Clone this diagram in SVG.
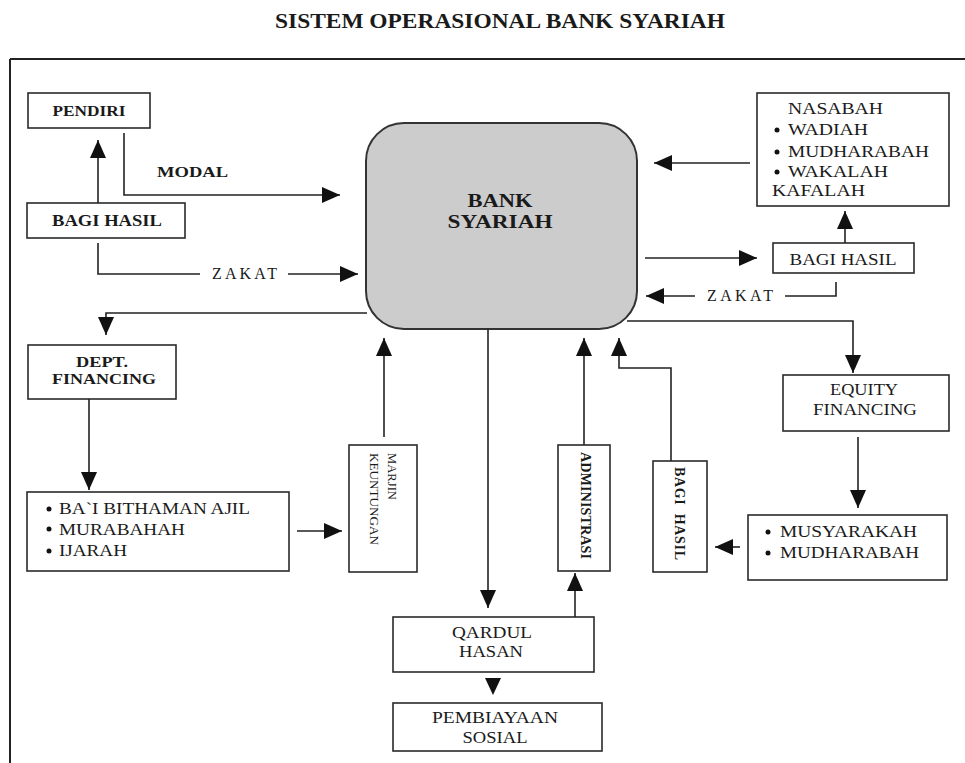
<svg xmlns="http://www.w3.org/2000/svg" width="965" height="763" viewBox="0 0 965 763">
<style>
  .bx{fill:#fff;stroke:#2a2a2a;stroke-width:1.6}
  .ln{fill:none;stroke:#222;stroke-width:1.6}
  .t{font-family:"Liberation Serif","Times New Roman",serif;fill:#1a1a1a}
  .b{font-weight:bold}
  .c{text-anchor:middle}
</style>
<defs>
  <marker id="ah" markerUnits="userSpaceOnUse" markerWidth="20" markerHeight="18" refX="18" refY="8" orient="auto">
    <path d="M0,0 L18,8 L0,16 z" fill="#111"/>
  </marker>
</defs>
<rect width="965" height="763" fill="#fff"/>
<text class="t b c" x="500" y="28" font-size="20" textLength="450" lengthAdjust="spacingAndGlyphs">SISTEM OPERASIONAL BANK SYARIAH</text>
<path d="M10,59 H965 M10,59 V763" fill="none" stroke="#222" stroke-width="2"/>

<g id="bank">
  <rect x="366" y="123" width="271" height="206" rx="38" ry="38" fill="#cccccc" stroke="#333" stroke-width="2"/>
  <text class="t b c" x="500" y="207" font-size="19" textLength="65" lengthAdjust="spacingAndGlyphs">BANK</text>
  <text class="t b c" x="500" y="228" font-size="19" textLength="105" lengthAdjust="spacingAndGlyphs">SYARIAH</text>
</g>
<g id="pendiri">
  <rect class="bx" x="28" y="93" width="122" height="35"/>
  <text class="t b c" x="89" y="116" font-size="15" textLength="73" lengthAdjust="spacingAndGlyphs">PENDIRI</text>
</g>
<g id="bagi-hasil-kiri">
  <rect class="bx" x="27" y="203" width="158" height="35"/>
  <text class="t b c" x="107" y="226" font-size="16" textLength="110" lengthAdjust="spacingAndGlyphs">BAGI HASIL</text>
</g>
<g id="nasabah">
  <rect class="bx" x="757" y="93" width="192" height="113"/>
  <text class="t" x="788" y="114" font-size="17" textLength="95" lengthAdjust="spacingAndGlyphs">NASABAH</text>
  <circle cx="777" cy="130" r="2.5" fill="#111"/>
  <text class="t" x="788" y="135" font-size="17" textLength="80" lengthAdjust="spacingAndGlyphs">WADIAH</text>
  <circle cx="777" cy="152" r="2.5" fill="#111"/>
  <text class="t" x="788" y="157" font-size="17" textLength="141" lengthAdjust="spacingAndGlyphs">MUDHARABAH</text>
  <circle cx="777" cy="172" r="2.5" fill="#111"/>
  <text class="t" x="788" y="177" font-size="17" textLength="100" lengthAdjust="spacingAndGlyphs">WAKALAH</text>
  <text class="t" x="772" y="196" font-size="17" textLength="93" lengthAdjust="spacingAndGlyphs">KAFALAH</text>
</g>
<g id="bagi-hasil-kanan">
  <rect class="bx" x="773" y="243" width="141" height="30"/>
  <text class="t c" x="843" y="265" font-size="16" textLength="107" lengthAdjust="spacingAndGlyphs">BAGI HASIL</text>
</g>
<g id="dept-financing">
  <rect class="bx" x="28" y="345" width="148" height="54"/>
  <text class="t b c" x="102" y="367" font-size="15" textLength="52" lengthAdjust="spacingAndGlyphs">DEPT.</text>
  <text class="t b c" x="104" y="384" font-size="15" textLength="104" lengthAdjust="spacingAndGlyphs">FINANCING</text>
</g>
<g id="bai-list">
  <rect class="bx" x="27" y="492" width="262" height="79"/>
  <circle cx="49" cy="509" r="2.5" fill="#111"/>
  <text class="t" x="59" y="514" font-size="17" textLength="191" lengthAdjust="spacingAndGlyphs">BA`I BITHAMAN AJIL</text>
  <circle cx="49" cy="529" r="2.5" fill="#111"/>
  <text class="t" x="59" y="535" font-size="17" textLength="126" lengthAdjust="spacingAndGlyphs">MURABAHAH</text>
  <circle cx="49" cy="551" r="2.5" fill="#111"/>
  <text class="t" x="59" y="556" font-size="17" textLength="68" lengthAdjust="spacingAndGlyphs">IJARAH</text>
</g>
<g id="marjin">
  <rect class="bx" x="349" y="445" width="68" height="127" stroke-width="1.3"/>
  <text class="t" font-size="13" fill="#444" transform="translate(388,453) rotate(90)" textLength="47" lengthAdjust="spacingAndGlyphs">MARJIN</text>
  <text class="t" font-size="13" fill="#444" transform="translate(370,453) rotate(90)" textLength="92" lengthAdjust="spacingAndGlyphs">KEUNTUNGAN</text>
</g>
<g id="administrasi">
  <rect class="bx" x="558" y="445" width="52" height="126"/>
  <text class="t b" font-size="14" transform="translate(581,452) rotate(90)" textLength="107" lengthAdjust="spacingAndGlyphs">ADMINISTRASI</text>
</g>
<g id="bagi-hasil-vertikal">
  <rect class="bx" x="653" y="461" width="54" height="111"/>
  <text class="t b" font-size="14" transform="translate(675,467) rotate(90)" textLength="93" xml:space="preserve">BAGI  HASIL</text>
</g>
<g id="equity-financing">
  <rect class="bx" x="783" y="375" width="166" height="56"/>
  <text class="t c" x="864" y="395" font-size="16" textLength="68" lengthAdjust="spacingAndGlyphs">EQUITY</text>
  <text class="t c" x="865" y="415" font-size="16" textLength="104" lengthAdjust="spacingAndGlyphs">FINANCING</text>
</g>
<g id="musyarakah-list">
  <rect class="bx" x="748" y="515" width="199" height="65"/>
  <circle cx="768" cy="532" r="2.5" fill="#111"/>
  <text class="t" x="780" y="537" font-size="17" textLength="137" lengthAdjust="spacingAndGlyphs">MUSYARAKAH</text>
  <circle cx="768" cy="553" r="2.5" fill="#111"/>
  <text class="t" x="780" y="558" font-size="17" textLength="139" lengthAdjust="spacingAndGlyphs">MUDHARABAH</text>
</g>
<g id="qardul-hasan">
  <rect class="bx" x="393" y="617" width="201" height="55"/>
  <text class="t c" x="492" y="638" font-size="16" textLength="80" lengthAdjust="spacingAndGlyphs">QARDUL</text>
  <text class="t c" x="491" y="657" font-size="16" textLength="64" lengthAdjust="spacingAndGlyphs">HASAN</text>
</g>
<g id="pembiayaan-sosial">
  <rect class="bx" x="393" y="703" width="209" height="48"/>
  <text class="t c" x="495" y="723" font-size="16" textLength="126" lengthAdjust="spacingAndGlyphs">PEMBIAYAAN</text>
  <text class="t c" x="495" y="743" font-size="16" textLength="65" lengthAdjust="spacingAndGlyphs">SOSIAL</text>
</g>

<g id="connectors">
  <path class="ln" d="M98,203 V140" marker-end="url(#ah)"/>
  <path class="ln" d="M124,133 V195 H340" marker-end="url(#ah)"/>
  <text class="t b" x="157" y="177" font-size="15" textLength="71" lengthAdjust="spacingAndGlyphs">MODAL</text>
  <path class="ln" d="M98,243 V274 H200"/>
  <text class="t" x="212" y="279" font-size="16" textLength="65">ZAKAT</text>
  <path class="ln" d="M288,274 H358" marker-end="url(#ah)"/>
  <path class="ln" d="M750,163 H654" marker-end="url(#ah)"/>
  <path class="ln" d="M645,258 H757" marker-end="url(#ah)"/>
  <path class="ln" d="M845,243 V211" marker-end="url(#ah)"/>
  <path class="ln" d="M836,282 V296 H785"/>
  <text class="t" x="707" y="301" font-size="16" textLength="66">ZAKAT</text>
  <path class="ln" d="M695,296 H646" marker-end="url(#ah)"/>
  <path class="ln" d="M367,313 H106 V335" marker-end="url(#ah)"/>
  <path class="ln" d="M89,399 V490" marker-end="url(#ah)"/>
  <path class="ln" d="M297,531 H342" marker-end="url(#ah)"/>
  <path class="ln" d="M384,437 V338" marker-end="url(#ah)"/>
  <path class="ln" d="M488,329 V608" marker-end="url(#ah)"/>
  <path class="ln" d="M584,445 V338" marker-end="url(#ah)"/>
  <path class="ln" d="M575,617 V573" marker-end="url(#ah)"/>
  <path class="ln" d="M671,461 V368 H619 V338" marker-end="url(#ah)"/>
  <path class="ln" d="M740,547 H715" marker-end="url(#ah)"/>
  <path class="ln" d="M627,321 H853 V373" marker-end="url(#ah)"/>
  <path class="ln" d="M858,437 V508" stroke-width="2.6" marker-end="url(#ah)"/>
  <polygon points="485,678 501,678 493,695" fill="#111"/>
</g>
</svg>
